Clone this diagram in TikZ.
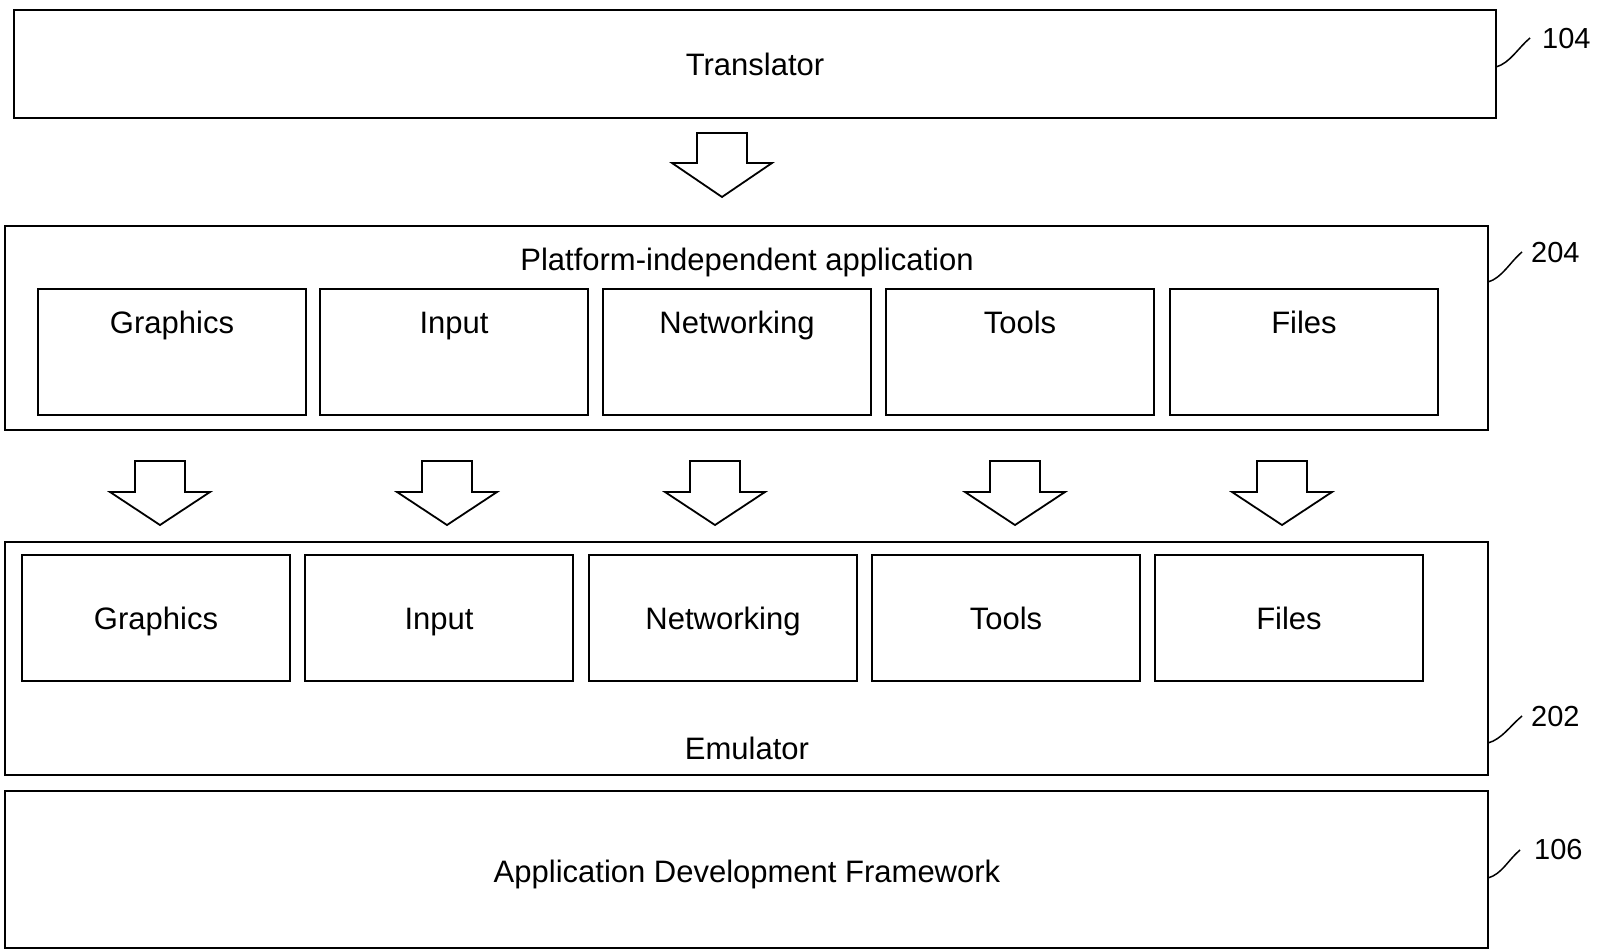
\documentclass[tikz,border=0pt]{standalone}
\usepackage{fontspec}
\setmainfont{Liberation Sans}
\begin{document}
\begin{tikzpicture}[x=1pt,y=-1pt,
  box/.style={draw=black, line width=1.8pt, rectangle, anchor=north west, inner sep=0pt, outer sep=0pt},
  txt/.style={font=\fontsize{31}{37}\selectfont, inner sep=0pt, text height=22pt, text depth=0pt},
  reftxt/.style={font=\fontsize{29}{34}\selectfont, inner sep=0pt, text height=21pt, text depth=0pt},
  lead/.style={draw=black, line width=1.5pt},
  blockarrow/.style={draw=black, line width=1.8pt, line join=miter, fill=white}
]
\useasboundingbox (0,0) rectangle (1597,950);

% Translator
\node[box, minimum width=1482pt, minimum height=108pt] (trans) at (14,10) {};
\node[txt] (transT) at (755,64) {Translator};

% Platform-independent application with its modules
\node[box, minimum width=1483pt, minimum height=204pt] (pia) at (5,226) {};
\node[txt] (piaT) at (747,259) {Platform-independent application};
\foreach \x/\n/\t in {38/pa/Graphics, 320/pb/Input, 603/pc/Networking, 886/pd/Tools, 1170/pe/Files}{
  \node[box, minimum width=268pt, minimum height=126pt] (\n) at (\x,289) {};
  \node[txt] (\n T) at ([yshift=-33pt]\n.north) {\t};
}

% Emulator with its modules
\node[box, minimum width=1483pt, minimum height=233pt] (emu) at (5,542) {};
\node[txt] (emuT) at (747,748) {Emulator};
\foreach \x/\n/\t in {22/ea/Graphics, 305/eb/Input, 589/ec/Networking, 872/ed/Tools, 1155/ee/Files}{
  \node[box, minimum width=268pt, minimum height=126pt] (\n) at (\x,555) {};
  \node[txt] (\n T) at (\n.center) {\t};
}

% Application Development Framework
\node[box, minimum width=1483pt, minimum height=157pt] (adf) at (5,791) {};
\node[txt] (adfT) at (747,871) {Application Development Framework};

% Block arrows: #1 = centre x, #2 = top y, #3 = shoulder y, #4 = tip y
\newcommand{\downblock}[4]{%
  \draw[blockarrow] (#1-25,#2) -- (#1+25,#2) -- (#1+25,#3) -- (#1+50,#3)
    -- (#1,#4) -- (#1-50,#3) -- (#1-25,#3) -- cycle;}
\downblock{722}{133}{163}{197}
\foreach \cx in {160,447,715,1015,1282}{\downblock{\cx}{461}{492}{525}}

% Reference numerals with leader curves
\coordinate (r104) at (1530,38);
\coordinate (r204) at (1522,252);
\coordinate (r202) at (1522,716);
\coordinate (r106) at (1520,850);
\draw[lead] (trans.east |- 0,67) .. controls +(14,-4) and +(-12,10) .. (r104);
\draw[lead] (pia.east |- 0,282) .. controls +(14,-4) and +(-12,10) .. (r204);
\draw[lead] (emu.east |- 0,743) .. controls +(14,-4) and +(-12,10) .. (r202);
\draw[lead] (adf.east |- 0,878) .. controls +(14,-4) and +(-12,10) .. (r106);
\node[reftxt, anchor=west] (n104) at (1542,38) {104};
\node[reftxt, anchor=west] (n204) at (1531,252) {204};
\node[reftxt, anchor=west] (n202) at (1531,716) {202};
\node[reftxt, anchor=west] (n106) at (1534,849) {106};
\end{tikzpicture}
\end{document}
